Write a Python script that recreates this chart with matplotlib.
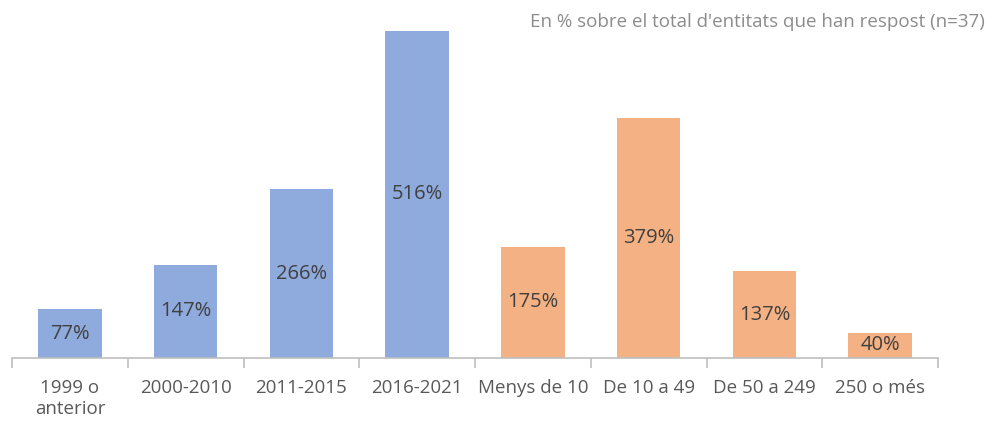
import matplotlib.pyplot as plt

categories = ['1999 o\nanterior', '2000-2010', '2011-2015', '2016-2021',
              'Menys de 10', 'De 10 a 49', 'De 50 a 249', '250 o més']
values = [77, 147, 266, 516, 175, 379, 137, 40]
labels = ['77%', '147%', '266%', '516%', '175%', '379%', '137%', '40%']
colors = ['#8FAADC'] * 4 + ['#F4B183'] * 4

plt.rcParams['font.family'] = ['Open Sans', 'DejaVu Sans']

fig = plt.figure(figsize=(9.94, 4.23), dpi=100)
ax = fig.add_axes([12 / 994, 65 / 423, 926 / 994, 340 / 423])

x = list(range(len(categories)))
bars = ax.bar(x, values, width=0.55, color=colors)
ax.bar_label(bars, labels=labels, label_type='center', fontsize=14.5, color='#404040')

ax.set_xlim(-0.5, 7.5)
ax.set_ylim(0, 536)
ax.set_yticks([])
for s in ['top', 'right', 'left']:
    ax.spines[s].set_visible(False)
ax.spines['bottom'].set_color('#BFBFBF')
ax.spines['bottom'].set_linewidth(1.2)

ax.set_xticks(x)
ax.set_xticklabels(categories, fontsize=13.5, color='#595959', linespacing=1.25, va='top')
ax.tick_params(axis='x', which='major', length=0, pad=15)
ax.set_xticks([i - 0.5 for i in range(len(categories) + 1)], minor=True)
ax.tick_params(axis='x', which='minor', length=7, color='#BFBFBF', width=1.2)

fig.text(985 / 994, 1 - 22 / 423, "En % sobre el total d'entitats que han respost (n=37)",
         ha='right', va='center', fontsize=13.5, color='#8C8C8C')

fig.savefig('out.png', dpi=100)
